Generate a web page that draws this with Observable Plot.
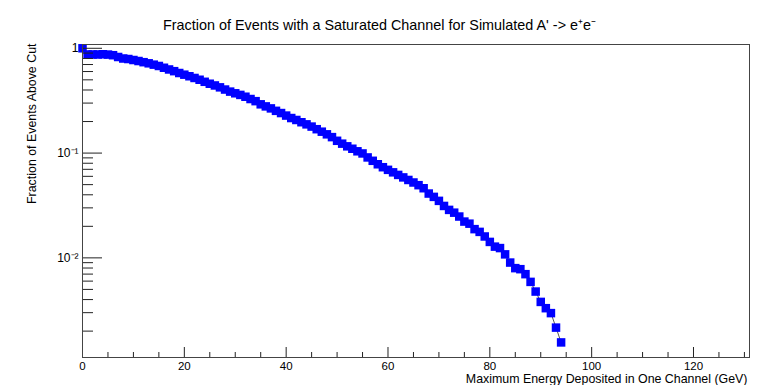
<!DOCTYPE html>
<html><head><meta charset="utf-8">
<script src="https://cdn.jsdelivr.net/npm/d3@7"></script>
<script src="https://cdn.jsdelivr.net/npm/@observablehq/plot@0.6"></script>
<style>body{margin:0;background:#fff}</style>
</head><body><div id="chart"></div>
<script>
const energy = [0,1,2,3,4,5,6,7,8,9,10,11,12,13,14,15,16,17,18,19,20,21,22,23,24,25,26,27,28,29,30,31,32,33,34,35,36,37,38,39,40,41,42,43,44,45,46,47,48,49,50,51,52,53,54,55,56,57,58,59,60,61,62,63,64,65,66,67,68,69,70,71,72,73,74,75,76,77,78,79,80,81,82,83,84,85,86,87,88,89,90,91,92,93,94];
const fraction = [1,0.873,0.873,0.873,0.877,0.871,0.859,0.826,0.799,0.790,0.773,0.756,0.737,0.719,0.698,0.678,0.652,0.628,0.605,0.581,0.560,0.541,0.521,0.501,0.479,0.459,0.442,0.424,0.404,0.386,0.372,0.359,0.345,0.328,0.313,0.292,0.279,0.267,0.253,0.241,0.228,0.216,0.207,0.197,0.188,0.179,0.169,0.160,0.151,0.142,0.131,0.123,0.116,0.110,0.104,0.0992,0.0909,0.0844,0.0782,0.0733,0.0692,0.0655,0.0619,0.0586,0.0554,0.0524,0.0494,0.0462,0.0411,0.0382,0.0350,0.0313,0.0287,0.0270,0.0248,0.0222,0.0212,0.0188,0.0177,0.0160,0.0142,0.0128,0.0124,0.0108,0.00902,0.00798,0.00780,0.00699,0.00590,0.00477,0.00380,0.00331,0.00297,0.00216,0.00156];
const xMajorTicks = [0,20,40,60,80,100,120];
const xMinorTicks = [5,10,15,25,30,35,45,50,55,65,70,75,85,90,95,105,110,115,125,130];
const yMajorTicks = [1,0.1,0.01];
const yMajorLabels = ["1","10\u207B\u00B9","10\u207B\u00B2"];
const yMinorTicks = [0.9,0.8,0.7,0.6,0.5,0.4,0.3,0.2,0.09,0.08,0.07,0.06,0.05,0.04,0.03,0.02,0.009,0.008,0.007,0.006,0.005,0.004,0.003,0.002];
const titleText = "Fraction of Events with a Saturated Channel for Simulated A' -> e\u207Ae\u207B";
const xLabel = "Maximum Energy Deposited in One Channel (GeV)";
const yLabel = "Fraction of Events Above Cut";

const data = energy.map((e, i) => ({energy: e, fraction: fraction[i]}));
const font = "'Liberation Sans', Arial, Helvetica, sans-serif";

const plot = Plot.plot({
  width: 767, height: 385,
  marginLeft: 82, marginRight: 18, marginTop: 44, marginBottom: 28,
  style: {fontFamily: font, fontSize: "12px", background: "white", color: "black"},
  x: {domain: [0, 131]},
  y: {type: "log", domain: [0.00112, 1.087]},
  marks: [
    Plot.line(data, {x: "energy", y: "fraction", stroke: "#555", strokeWidth: 1}),
    Plot.dot(data, {x: "energy", y: "fraction", symbol: "square", r: 4.8, fill: "#0000ff", stroke: "none"}),
    Plot.axisX({ticks: xMajorTicks, tickSize: -10, text: null, label: null, stroke: "#222"}),
    Plot.axisX({ticks: xMinorTicks, tickSize: -5, text: null, label: null, stroke: "#222"}),
    Plot.axisX({ticks: xMajorTicks, tickSize: 0, tickPadding: 4, label: null, fontSize: 11.5}),
    Plot.axisY({ticks: yMajorTicks, tickSize: -20, text: null, label: null, stroke: "#222"}),
    Plot.axisY({ticks: yMinorTicks, tickSize: -11, text: null, label: null, stroke: "#222"}),
    Plot.axisY({ticks: yMajorTicks, tickSize: 0, tickPadding: 4, label: null, fontSize: 12,
      tickFormat: d => yMajorLabels[yMajorTicks.indexOf(d)]}),
    Plot.frame({stroke: "#444"}),
    Plot.text([titleText], {frameAnchor: "top", lineAnchor: "middle", dy: -19, dx: -36.5, text: d => d, fontSize: 14.4}),
    Plot.text([xLabel], {frameAnchor: "bottom-right", lineAnchor: "middle", dy: 21.5, dx: -2, textAnchor: "end", text: d => d, fontSize: 12.4}),
    Plot.text([yLabel], {frameAnchor: "top-left", lineAnchor: "middle", dx: -50, dy: -1, rotate: -90, textAnchor: "end", text: d => d, fontSize: 12.4})
  ]
});
document.getElementById("chart").appendChild(plot);
</script>
</body></html>
